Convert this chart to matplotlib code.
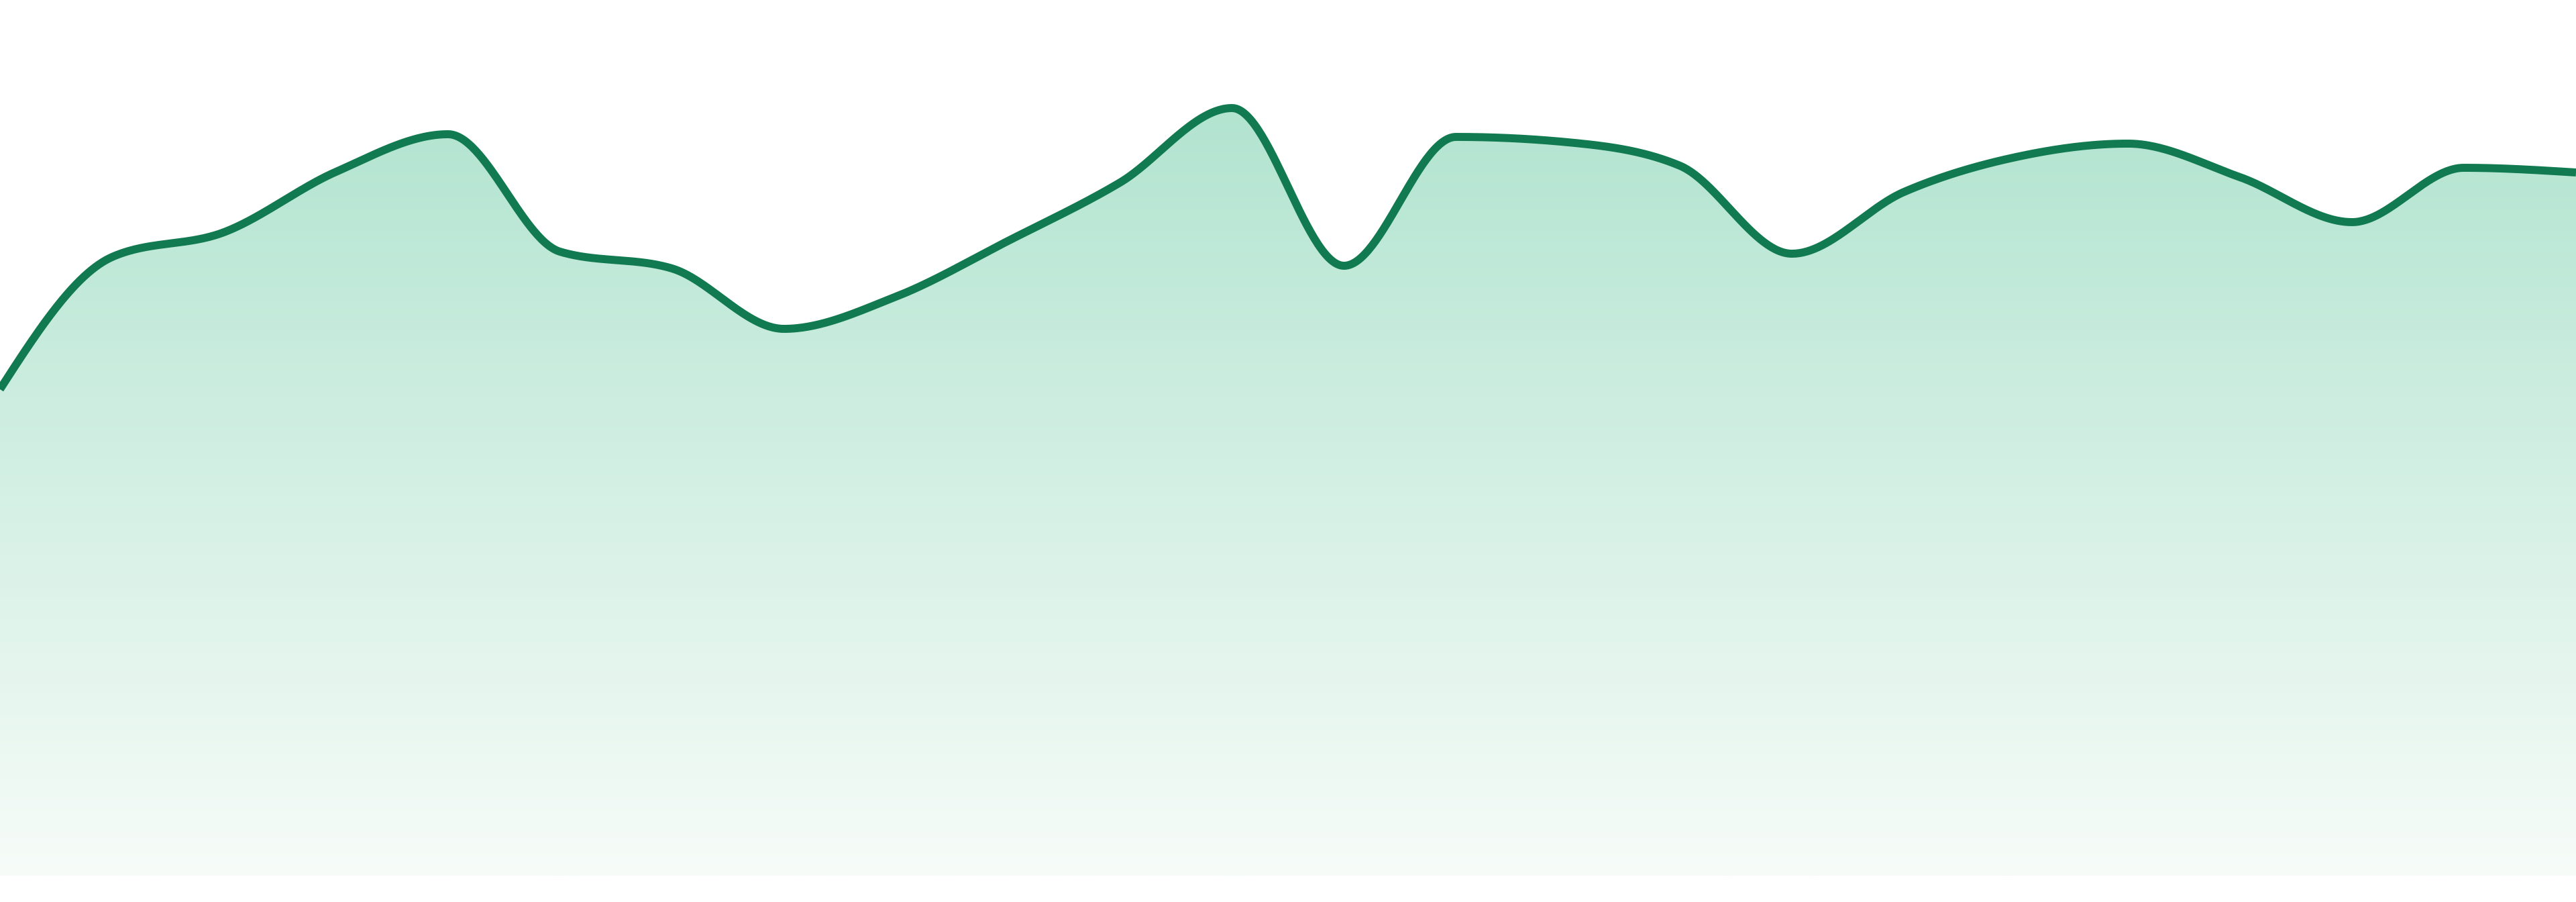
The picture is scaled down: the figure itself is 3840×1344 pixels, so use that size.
import numpy as np
import matplotlib
matplotlib.use("Agg")
import matplotlib.pyplot as plt

# values (one point per step, 24 steps)
steps = list(range(24))
values = [725, 922, 959, 1049, 1105, 930, 905, 815, 863, 946, 1033, 1144,
          909, 1101, 1093, 1058, 927, 1019, 1071, 1091, 1041, 974, 1055, 1048]

line_color = "#127a50"
top_rgb = (178, 228, 208)
bottom_rgb = (247, 252, 249)


def monotone_curve(x, y, n=60):
    # monotone cubic (same idea as d3 curveMonotoneX)
    x = np.asarray(x, float)
    y = np.asarray(y, float)
    h = np.diff(x)
    s = np.diff(y) / h
    m = np.zeros_like(y)
    for i in range(1, len(y) - 1):
        p = (s[i - 1] * h[i] + s[i] * h[i - 1]) / (h[i - 1] + h[i])
        m[i] = (np.sign(s[i - 1]) + np.sign(s[i])) * min(abs(s[i - 1]), abs(s[i]), 0.5 * abs(p))
    m[0] = (3 * s[0] - m[1]) / 2
    m[-1] = (3 * s[-1] - m[-2]) / 2
    xs, ys = [], []
    for i in range(len(h)):
        t = np.linspace(0, 1, n, endpoint=(i == len(h) - 1))
        h00 = 2 * t**3 - 3 * t**2 + 1
        h10 = t**3 - 2 * t**2 + t
        h01 = -2 * t**3 + 3 * t**2
        h11 = t**3 - t**2
        xs.append(x[i] + t * h[i])
        ys.append(h00 * y[i] + h10 * h[i] * m[i] + h01 * y[i + 1] + h11 * h[i] * m[i + 1])
    return np.concatenate(xs), np.concatenate(ys)


xs, ys = monotone_curve(steps, values)

fig = plt.figure(figsize=(38.4, 13.44), dpi=100)
ax = fig.add_axes([0, 39 / 1344, 1, 1305 / 1344])
ax.set_xlim(0, 23)
ax.set_ylim(0, 1305)
ax.axis("off")

# gradient fill under the curve
vmax = max(values)
yy = np.linspace(0, 1305, 600)
frac = np.clip(yy / vmax, 0, 1)[:, None]
grad = (np.array(bottom_rgb) + (np.array(top_rgb) - np.array(bottom_rgb)) * frac) / 255.0
grad = grad[:, None, :]
im = ax.imshow(grad, extent=[0, 23, 0, 1305], origin="lower", aspect="auto", zorder=1)
poly = ax.fill_between(xs, ys, 0, color="none", lw=0)
path = poly.get_paths()[0]
im.set_clip_path(path, transform=ax.transData)

ax.plot(xs, ys, color=line_color, lw=8.6, solid_capstyle="butt", zorder=3)

fig.savefig("out.png", dpi=100, facecolor="white")
